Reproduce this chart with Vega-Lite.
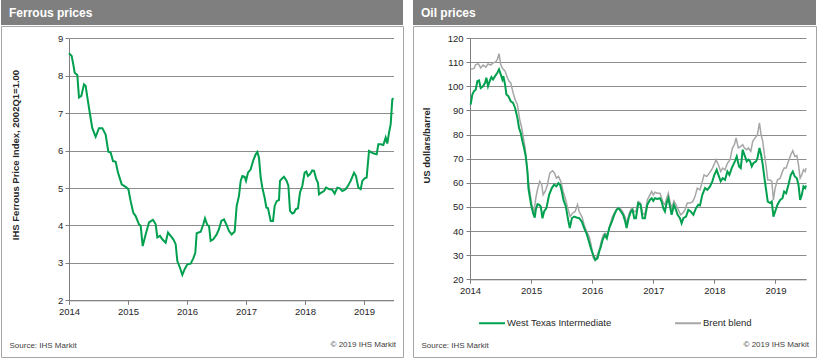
{
  "$schema": "https://vega.github.io/schema/vega-lite/v6.json",
  "padding": 0,
  "background": "white",
  "spacing": 8,
  "config": {
    "font": "Liberation Sans",
    "view": {"stroke": null},
    "axis": {
      "labelFont": "Liberation Sans",
      "labelFontSize": 9.5,
      "labelColor": "#262626",
      "titleFont": "Liberation Sans",
      "domainColor": "#7f7f7f",
      "tickColor": "#7f7f7f",
      "gridColor": "#8c8c8c",
      "gridWidth": 1,
      "tickSize": 4
    }
  },
  "datasets": {
    "ferrous": [
      {"t":2014.000,"v":8.60},{"t":2014.045,"v":8.53},{"t":2014.073,"v":8.30},{"t":2014.096,"v":8.08},{"t":2014.141,"v":8.02},
      {"t":2014.169,"v":7.42},{"t":2014.209,"v":7.46},{"t":2014.254,"v":7.77},{"t":2014.282,"v":7.73},{"t":2014.311,"v":7.42},
      {"t":2014.356,"v":6.97},{"t":2014.395,"v":6.60},{"t":2014.452,"v":6.37},{"t":2014.508,"v":6.60},{"t":2014.565,"v":6.60},
      {"t":2014.621,"v":6.43},{"t":2014.667,"v":5.97},{"t":2014.706,"v":5.95},{"t":2014.746,"v":5.72},{"t":2014.791,"v":5.70},
      {"t":2014.831,"v":5.41},{"t":2014.893,"v":5.10},{"t":2014.960,"v":5.03},{"t":2015.006,"v":4.97},{"t":2015.045,"v":4.65},
      {"t":2015.090,"v":4.34},{"t":2015.130,"v":4.25},{"t":2015.186,"v":4.03},{"t":2015.215,"v":3.99},{"t":2015.249,"v":3.45},
      {"t":2015.299,"v":3.76},{"t":2015.356,"v":4.08},{"t":2015.395,"v":4.12},{"t":2015.424,"v":4.15},{"t":2015.469,"v":4.03},
      {"t":2015.497,"v":3.68},{"t":2015.542,"v":3.72},{"t":2015.582,"v":3.63},{"t":2015.638,"v":3.54},{"t":2015.678,"v":3.81},
      {"t":2015.723,"v":3.72},{"t":2015.768,"v":3.63},{"t":2015.808,"v":3.50},{"t":2015.836,"v":3.05},{"t":2015.881,"v":2.87},
      {"t":2015.921,"v":2.68},{"t":2015.960,"v":2.83},{"t":2016.006,"v":2.96},{"t":2016.062,"v":2.98},{"t":2016.107,"v":3.12},
      {"t":2016.141,"v":3.27},{"t":2016.164,"v":3.79},{"t":2016.232,"v":3.83},{"t":2016.277,"v":4.03},{"t":2016.305,"v":4.19},
      {"t":2016.345,"v":4.01},{"t":2016.373,"v":3.99},{"t":2016.401,"v":3.59},{"t":2016.446,"v":3.63},{"t":2016.503,"v":3.76},
      {"t":2016.542,"v":3.90},{"t":2016.582,"v":4.12},{"t":2016.627,"v":4.16},{"t":2016.667,"v":4.03},{"t":2016.712,"v":3.85},
      {"t":2016.757,"v":3.76},{"t":2016.808,"v":3.84},{"t":2016.842,"v":4.52},{"t":2016.881,"v":4.79},{"t":2016.910,"v":5.19},
      {"t":2016.938,"v":5.32},{"t":2016.977,"v":5.30},{"t":2017.000,"v":5.19},{"t":2017.034,"v":5.41},{"t":2017.079,"v":5.50},
      {"t":2017.124,"v":5.74},{"t":2017.164,"v":5.90},{"t":2017.192,"v":5.96},{"t":2017.220,"v":5.81},{"t":2017.249,"v":5.28},
      {"t":2017.277,"v":5.01},{"t":2017.316,"v":4.74},{"t":2017.345,"v":4.48},{"t":2017.373,"v":4.46},{"t":2017.418,"v":4.12},
      {"t":2017.458,"v":4.12},{"t":2017.486,"v":4.52},{"t":2017.520,"v":4.65},{"t":2017.559,"v":4.68},{"t":2017.576,"v":5.19},
      {"t":2017.616,"v":5.26},{"t":2017.644,"v":5.30},{"t":2017.689,"v":5.19},{"t":2017.718,"v":5.06},{"t":2017.746,"v":4.39},
      {"t":2017.785,"v":4.32},{"t":2017.814,"v":4.34},{"t":2017.842,"v":4.43},{"t":2017.881,"v":4.46},{"t":2017.915,"v":4.88},
      {"t":2017.955,"v":5.06},{"t":2017.994,"v":5.41},{"t":2018.023,"v":5.44},{"t":2018.051,"v":5.32},{"t":2018.085,"v":5.37},
      {"t":2018.124,"v":5.47},{"t":2018.153,"v":5.46},{"t":2018.192,"v":5.23},{"t":2018.220,"v":5.14},{"t":2018.237,"v":4.83},
      {"t":2018.277,"v":4.88},{"t":2018.322,"v":4.92},{"t":2018.356,"v":5.01},{"t":2018.407,"v":4.97},{"t":2018.463,"v":4.95},
      {"t":2018.503,"v":4.85},{"t":2018.548,"v":5.01},{"t":2018.588,"v":4.99},{"t":2018.633,"v":4.92},{"t":2018.689,"v":4.97},
      {"t":2018.729,"v":5.06},{"t":2018.774,"v":5.19},{"t":2018.831,"v":5.41},{"t":2018.864,"v":5.32},{"t":2018.904,"v":5.01},
      {"t":2018.944,"v":4.97},{"t":2018.972,"v":5.19},{"t":2019.011,"v":5.26},{"t":2019.045,"v":5.28},{"t":2019.085,"v":5.99},
      {"t":2019.124,"v":5.95},{"t":2019.169,"v":5.92},{"t":2019.215,"v":5.90},{"t":2019.243,"v":6.17},{"t":2019.282,"v":6.17},
      {"t":2019.328,"v":6.15},{"t":2019.367,"v":6.35},{"t":2019.395,"v":6.19},{"t":2019.424,"v":6.48},{"t":2019.452,"v":6.70},
      {"t":2019.480,"v":7.37},{"t":2019.500,"v":7.40}
    ],
    "oil": [
      {"s":"Brent blend","t":2014.011,"v":107.0},{"s":"Brent blend","t":2014.066,"v":107.4},{"s":"Brent blend","t":2014.093,"v":109.0},
      {"s":"Brent blend","t":2014.137,"v":109.3},{"s":"Brent blend","t":2014.175,"v":107.6},{"s":"Brent blend","t":2014.213,"v":108.8},
      {"s":"Brent blend","t":2014.257,"v":107.9},{"s":"Brent blend","t":2014.295,"v":109.3},{"s":"Brent blend","t":2014.339,"v":108.8},
      {"s":"Brent blend","t":2014.377,"v":109.7},{"s":"Brent blend","t":2014.421,"v":110.1},{"s":"Brent blend","t":2014.448,"v":111.1},
      {"s":"Brent blend","t":2014.475,"v":113.5},{"s":"Brent blend","t":2014.503,"v":109.0},{"s":"Brent blend","t":2014.530,"v":107.4},
      {"s":"Brent blend","t":2014.574,"v":106.3},{"s":"Brent blend","t":2014.612,"v":103.5},{"s":"Brent blend","t":2014.639,"v":102.1},
      {"s":"Brent blend","t":2014.667,"v":101.4},{"s":"Brent blend","t":2014.705,"v":97.3},{"s":"Brent blend","t":2014.738,"v":94.5},
      {"s":"Brent blend","t":2014.776,"v":92.4},{"s":"Brent blend","t":2014.814,"v":86.2},{"s":"Brent blend","t":2014.847,"v":82.7},
      {"s":"Brent blend","t":2014.874,"v":78.6},{"s":"Brent blend","t":2014.902,"v":74.4},{"s":"Brent blend","t":2014.923,"v":68.9},
      {"s":"Brent blend","t":2014.945,"v":63.3},{"s":"Brent blend","t":2014.967,"v":58.5},{"s":"Brent blend","t":2014.995,"v":53.6},
      {"s":"Brent blend","t":2015.022,"v":49.5},{"s":"Brent blend","t":2015.049,"v":48.1},{"s":"Brent blend","t":2015.077,"v":53.6},
      {"s":"Brent blend","t":2015.104,"v":57.1},{"s":"Brent blend","t":2015.142,"v":60.6},{"s":"Brent blend","t":2015.175,"v":59.2},
      {"s":"Brent blend","t":2015.197,"v":55.0},{"s":"Brent blend","t":2015.230,"v":56.4},{"s":"Brent blend","t":2015.268,"v":59.2},
      {"s":"Brent blend","t":2015.306,"v":64.0},{"s":"Brent blend","t":2015.350,"v":65.0},{"s":"Brent blend","t":2015.383,"v":64.0},
      {"s":"Brent blend","t":2015.415,"v":61.9},{"s":"Brent blend","t":2015.448,"v":62.6},{"s":"Brent blend","t":2015.486,"v":60.6},
      {"s":"Brent blend","t":2015.525,"v":56.4},{"s":"Brent blend","t":2015.568,"v":52.9},{"s":"Brent blend","t":2015.607,"v":48.8},
      {"s":"Brent blend","t":2015.639,"v":46.0},{"s":"Brent blend","t":2015.678,"v":47.4},{"s":"Brent blend","t":2015.721,"v":48.1},
      {"s":"Brent blend","t":2015.760,"v":50.9},{"s":"Brent blend","t":2015.787,"v":48.1},{"s":"Brent blend","t":2015.831,"v":46.0},
      {"s":"Brent blend","t":2015.869,"v":42.5},{"s":"Brent blend","t":2015.907,"v":39.8},{"s":"Brent blend","t":2015.951,"v":37.7},
      {"s":"Brent blend","t":2015.984,"v":34.2},{"s":"Brent blend","t":2016.016,"v":29.0},{"s":"Brent blend","t":2016.049,"v":28.0},
      {"s":"Brent blend","t":2016.082,"v":30.1},{"s":"Brent blend","t":2016.115,"v":32.1},{"s":"Brent blend","t":2016.148,"v":35.6},
      {"s":"Brent blend","t":2016.180,"v":38.4},{"s":"Brent blend","t":2016.213,"v":39.1},{"s":"Brent blend","t":2016.251,"v":38.4},
      {"s":"Brent blend","t":2016.290,"v":42.5},{"s":"Brent blend","t":2016.333,"v":46.0},{"s":"Brent blend","t":2016.377,"v":48.1},
      {"s":"Brent blend","t":2016.415,"v":49.5},{"s":"Brent blend","t":2016.454,"v":49.5},{"s":"Brent blend","t":2016.497,"v":48.1},
      {"s":"Brent blend","t":2016.536,"v":46.0},{"s":"Brent blend","t":2016.568,"v":43.2},{"s":"Brent blend","t":2016.607,"v":47.4},
      {"s":"Brent blend","t":2016.645,"v":49.5},{"s":"Brent blend","t":2016.678,"v":48.1},{"s":"Brent blend","t":2016.716,"v":48.1},
      {"s":"Brent blend","t":2016.754,"v":52.2},{"s":"Brent blend","t":2016.792,"v":51.6},{"s":"Brent blend","t":2016.825,"v":47.4},
      {"s":"Brent blend","t":2016.863,"v":46.7},{"s":"Brent blend","t":2016.902,"v":52.9},{"s":"Brent blend","t":2016.945,"v":55.0},
      {"s":"Brent blend","t":2016.973,"v":56.4},{"s":"Brent blend","t":2017.000,"v":55.0},{"s":"Brent blend","t":2017.027,"v":56.1},
      {"s":"Brent blend","t":2017.066,"v":55.7},{"s":"Brent blend","t":2017.109,"v":55.7},{"s":"Brent blend","t":2017.137,"v":53.6},
      {"s":"Brent blend","t":2017.164,"v":51.6},{"s":"Brent blend","t":2017.191,"v":50.9},{"s":"Brent blend","t":2017.219,"v":53.6},
      {"s":"Brent blend","t":2017.246,"v":55.7},{"s":"Brent blend","t":2017.273,"v":52.2},{"s":"Brent blend","t":2017.301,"v":49.5},
      {"s":"Brent blend","t":2017.339,"v":52.5},{"s":"Brent blend","t":2017.372,"v":50.9},{"s":"Brent blend","t":2017.410,"v":48.8},
      {"s":"Brent blend","t":2017.448,"v":46.7},{"s":"Brent blend","t":2017.481,"v":47.4},{"s":"Brent blend","t":2017.519,"v":48.8},
      {"s":"Brent blend","t":2017.557,"v":51.6},{"s":"Brent blend","t":2017.601,"v":51.6},{"s":"Brent blend","t":2017.645,"v":52.2},
      {"s":"Brent blend","t":2017.683,"v":54.3},{"s":"Brent blend","t":2017.721,"v":57.8},{"s":"Brent blend","t":2017.765,"v":57.1},
      {"s":"Brent blend","t":2017.803,"v":60.6},{"s":"Brent blend","t":2017.831,"v":63.3},{"s":"Brent blend","t":2017.874,"v":62.6},
      {"s":"Brent blend","t":2017.918,"v":64.0},{"s":"Brent blend","t":2017.956,"v":65.4},{"s":"Brent blend","t":2017.995,"v":67.5},
      {"s":"Brent blend","t":2018.027,"v":69.6},{"s":"Brent blend","t":2018.066,"v":67.5},{"s":"Brent blend","t":2018.104,"v":64.7},
      {"s":"Brent blend","t":2018.137,"v":66.1},{"s":"Brent blend","t":2018.175,"v":65.4},{"s":"Brent blend","t":2018.213,"v":68.1},
      {"s":"Brent blend","t":2018.257,"v":69.6},{"s":"Brent blend","t":2018.295,"v":74.4},{"s":"Brent blend","t":2018.328,"v":75.8},
      {"s":"Brent blend","t":2018.355,"v":78.6},{"s":"Brent blend","t":2018.393,"v":74.4},{"s":"Brent blend","t":2018.432,"v":75.1},
      {"s":"Brent blend","t":2018.464,"v":75.8},{"s":"Brent blend","t":2018.492,"v":74.4},{"s":"Brent blend","t":2018.530,"v":73.7},
      {"s":"Brent blend","t":2018.557,"v":74.4},{"s":"Brent blend","t":2018.596,"v":73.0},{"s":"Brent blend","t":2018.628,"v":77.2},
      {"s":"Brent blend","t":2018.667,"v":78.6},{"s":"Brent blend","t":2018.705,"v":79.9},{"s":"Brent blend","t":2018.738,"v":84.8},
      {"s":"Brent blend","t":2018.765,"v":79.9},{"s":"Brent blend","t":2018.792,"v":77.2},{"s":"Brent blend","t":2018.820,"v":71.6},
      {"s":"Brent blend","t":2018.847,"v":66.8},{"s":"Brent blend","t":2018.874,"v":61.2},{"s":"Brent blend","t":2018.913,"v":61.2},
      {"s":"Brent blend","t":2018.940,"v":60.6},{"s":"Brent blend","t":2018.967,"v":52.9},{"s":"Brent blend","t":2018.995,"v":57.8},
      {"s":"Brent blend","t":2019.033,"v":61.2},{"s":"Brent blend","t":2019.077,"v":61.9},{"s":"Brent blend","t":2019.115,"v":64.7},
      {"s":"Brent blend","t":2019.142,"v":66.1},{"s":"Brent blend","t":2019.175,"v":66.1},{"s":"Brent blend","t":2019.213,"v":68.9},
      {"s":"Brent blend","t":2019.251,"v":71.6},{"s":"Brent blend","t":2019.284,"v":73.3},{"s":"Brent blend","t":2019.317,"v":70.9},
      {"s":"Brent blend","t":2019.350,"v":71.3},{"s":"Brent blend","t":2019.377,"v":67.5},{"s":"Brent blend","t":2019.404,"v":61.9},
      {"s":"Brent blend","t":2019.432,"v":63.3},{"s":"Brent blend","t":2019.459,"v":65.4},{"s":"Brent blend","t":2019.486,"v":64.7},
      {"s":"Brent blend","t":2019.500,"v":66.1},
      {"s":"West Texas Intermediate","t":2014.011,"v":92.4},{"s":"West Texas Intermediate","t":2014.038,"v":96.6},{"s":"West Texas Intermediate","t":2014.066,"v":98.0},
      {"s":"West Texas Intermediate","t":2014.093,"v":98.6},{"s":"West Texas Intermediate","t":2014.120,"v":102.1},{"s":"West Texas Intermediate","t":2014.148,"v":102.4},
      {"s":"West Texas Intermediate","t":2014.175,"v":99.3},{"s":"West Texas Intermediate","t":2014.213,"v":100.0},{"s":"West Texas Intermediate","t":2014.246,"v":101.4},
      {"s":"West Texas Intermediate","t":2014.268,"v":103.5},{"s":"West Texas Intermediate","t":2014.295,"v":100.0},{"s":"West Texas Intermediate","t":2014.322,"v":102.1},
      {"s":"West Texas Intermediate","t":2014.350,"v":103.8},{"s":"West Texas Intermediate","t":2014.377,"v":102.8},{"s":"West Texas Intermediate","t":2014.410,"v":104.2},
      {"s":"West Texas Intermediate","t":2014.448,"v":105.6},{"s":"West Texas Intermediate","t":2014.475,"v":107.0},{"s":"West Texas Intermediate","t":2014.503,"v":104.9},
      {"s":"West Texas Intermediate","t":2014.530,"v":102.8},{"s":"West Texas Intermediate","t":2014.546,"v":104.2},{"s":"West Texas Intermediate","t":2014.574,"v":100.7},
      {"s":"West Texas Intermediate","t":2014.596,"v":96.6},{"s":"West Texas Intermediate","t":2014.628,"v":95.9},{"s":"West Texas Intermediate","t":2014.667,"v":93.8},
      {"s":"West Texas Intermediate","t":2014.705,"v":93.1},{"s":"West Texas Intermediate","t":2014.738,"v":91.0},{"s":"West Texas Intermediate","t":2014.776,"v":86.9},
      {"s":"West Texas Intermediate","t":2014.803,"v":82.7},{"s":"West Texas Intermediate","t":2014.831,"v":80.6},{"s":"West Texas Intermediate","t":2014.858,"v":77.2},
      {"s":"West Texas Intermediate","t":2014.885,"v":74.4},{"s":"West Texas Intermediate","t":2014.913,"v":70.9},{"s":"West Texas Intermediate","t":2014.940,"v":64.7},
      {"s":"West Texas Intermediate","t":2014.956,"v":57.8},{"s":"West Texas Intermediate","t":2014.978,"v":54.3},{"s":"West Texas Intermediate","t":2015.000,"v":50.9},
      {"s":"West Texas Intermediate","t":2015.033,"v":47.4},{"s":"West Texas Intermediate","t":2015.060,"v":45.6},{"s":"West Texas Intermediate","t":2015.077,"v":48.8},
      {"s":"West Texas Intermediate","t":2015.104,"v":51.1},{"s":"West Texas Intermediate","t":2015.131,"v":50.9},{"s":"West Texas Intermediate","t":2015.158,"v":50.2},
      {"s":"West Texas Intermediate","t":2015.186,"v":45.3},{"s":"West Texas Intermediate","t":2015.213,"v":48.1},{"s":"West Texas Intermediate","t":2015.251,"v":49.5},
      {"s":"West Texas Intermediate","t":2015.295,"v":55.0},{"s":"West Texas Intermediate","t":2015.339,"v":57.8},{"s":"West Texas Intermediate","t":2015.377,"v":59.2},
      {"s":"West Texas Intermediate","t":2015.415,"v":58.5},{"s":"West Texas Intermediate","t":2015.448,"v":59.9},{"s":"West Texas Intermediate","t":2015.475,"v":59.2},
      {"s":"West Texas Intermediate","t":2015.503,"v":56.4},{"s":"West Texas Intermediate","t":2015.530,"v":52.9},{"s":"West Texas Intermediate","t":2015.568,"v":50.2},
      {"s":"West Texas Intermediate","t":2015.607,"v":44.6},{"s":"West Texas Intermediate","t":2015.634,"v":41.2},{"s":"West Texas Intermediate","t":2015.667,"v":45.3},
      {"s":"West Texas Intermediate","t":2015.705,"v":46.0},{"s":"West Texas Intermediate","t":2015.743,"v":45.6},{"s":"West Texas Intermediate","t":2015.787,"v":45.3},
      {"s":"West Texas Intermediate","t":2015.831,"v":43.9},{"s":"West Texas Intermediate","t":2015.869,"v":41.2},{"s":"West Texas Intermediate","t":2015.907,"v":39.1},
      {"s":"West Texas Intermediate","t":2015.940,"v":36.3},{"s":"West Texas Intermediate","t":2015.978,"v":32.9},{"s":"West Texas Intermediate","t":2016.016,"v":30.1},
      {"s":"West Texas Intermediate","t":2016.049,"v":28.0},{"s":"West Texas Intermediate","t":2016.087,"v":28.7},{"s":"West Texas Intermediate","t":2016.115,"v":31.5},
      {"s":"West Texas Intermediate","t":2016.142,"v":33.5},{"s":"West Texas Intermediate","t":2016.169,"v":36.3},{"s":"West Texas Intermediate","t":2016.208,"v":38.4},
      {"s":"West Texas Intermediate","t":2016.240,"v":37.0},{"s":"West Texas Intermediate","t":2016.279,"v":41.2},{"s":"West Texas Intermediate","t":2016.322,"v":43.9},
      {"s":"West Texas Intermediate","t":2016.361,"v":46.7},{"s":"West Texas Intermediate","t":2016.399,"v":48.8},{"s":"West Texas Intermediate","t":2016.432,"v":49.5},
      {"s":"West Texas Intermediate","t":2016.470,"v":48.1},{"s":"West Texas Intermediate","t":2016.508,"v":46.7},{"s":"West Texas Intermediate","t":2016.541,"v":43.9},
      {"s":"West Texas Intermediate","t":2016.563,"v":41.2},{"s":"West Texas Intermediate","t":2016.596,"v":45.3},{"s":"West Texas Intermediate","t":2016.634,"v":48.1},
      {"s":"West Texas Intermediate","t":2016.661,"v":48.8},{"s":"West Texas Intermediate","t":2016.689,"v":45.3},{"s":"West Texas Intermediate","t":2016.716,"v":45.3},
      {"s":"West Texas Intermediate","t":2016.754,"v":51.6},{"s":"West Texas Intermediate","t":2016.792,"v":50.9},{"s":"West Texas Intermediate","t":2016.825,"v":45.3},
      {"s":"West Texas Intermediate","t":2016.863,"v":45.3},{"s":"West Texas Intermediate","t":2016.902,"v":50.9},{"s":"West Texas Intermediate","t":2016.945,"v":52.9},
      {"s":"West Texas Intermediate","t":2016.973,"v":53.6},{"s":"West Texas Intermediate","t":2017.000,"v":52.5},{"s":"West Texas Intermediate","t":2017.027,"v":53.6},
      {"s":"West Texas Intermediate","t":2017.066,"v":53.3},{"s":"West Texas Intermediate","t":2017.109,"v":53.6},{"s":"West Texas Intermediate","t":2017.137,"v":52.2},
      {"s":"West Texas Intermediate","t":2017.164,"v":49.5},{"s":"West Texas Intermediate","t":2017.191,"v":48.1},{"s":"West Texas Intermediate","t":2017.219,"v":51.6},
      {"s":"West Texas Intermediate","t":2017.246,"v":53.6},{"s":"West Texas Intermediate","t":2017.273,"v":50.2},{"s":"West Texas Intermediate","t":2017.301,"v":46.7},
      {"s":"West Texas Intermediate","t":2017.339,"v":50.9},{"s":"West Texas Intermediate","t":2017.372,"v":48.8},{"s":"West Texas Intermediate","t":2017.399,"v":46.7},
      {"s":"West Texas Intermediate","t":2017.437,"v":45.3},{"s":"West Texas Intermediate","t":2017.464,"v":43.2},{"s":"West Texas Intermediate","t":2017.492,"v":45.3},
      {"s":"West Texas Intermediate","t":2017.536,"v":46.0},{"s":"West Texas Intermediate","t":2017.574,"v":48.8},{"s":"West Texas Intermediate","t":2017.612,"v":48.1},
      {"s":"West Texas Intermediate","t":2017.656,"v":46.7},{"s":"West Texas Intermediate","t":2017.699,"v":49.5},{"s":"West Texas Intermediate","t":2017.738,"v":50.9},
      {"s":"West Texas Intermediate","t":2017.765,"v":50.6},{"s":"West Texas Intermediate","t":2017.803,"v":55.0},{"s":"West Texas Intermediate","t":2017.847,"v":57.8},
      {"s":"West Texas Intermediate","t":2017.885,"v":57.1},{"s":"West Texas Intermediate","t":2017.929,"v":58.5},{"s":"West Texas Intermediate","t":2017.967,"v":60.6},
      {"s":"West Texas Intermediate","t":2018.000,"v":63.3},{"s":"West Texas Intermediate","t":2018.038,"v":65.4},{"s":"West Texas Intermediate","t":2018.066,"v":63.3},
      {"s":"West Texas Intermediate","t":2018.104,"v":60.6},{"s":"West Texas Intermediate","t":2018.137,"v":61.9},{"s":"West Texas Intermediate","t":2018.175,"v":61.2},
      {"s":"West Texas Intermediate","t":2018.213,"v":64.7},{"s":"West Texas Intermediate","t":2018.246,"v":63.3},{"s":"West Texas Intermediate","t":2018.284,"v":66.1},
      {"s":"West Texas Intermediate","t":2018.311,"v":67.5},{"s":"West Texas Intermediate","t":2018.339,"v":69.1},{"s":"West Texas Intermediate","t":2018.366,"v":70.9},
      {"s":"West Texas Intermediate","t":2018.404,"v":66.8},{"s":"West Texas Intermediate","t":2018.432,"v":66.1},{"s":"West Texas Intermediate","t":2018.464,"v":73.7},
      {"s":"West Texas Intermediate","t":2018.492,"v":71.6},{"s":"West Texas Intermediate","t":2018.530,"v":68.9},{"s":"West Texas Intermediate","t":2018.557,"v":69.6},
      {"s":"West Texas Intermediate","t":2018.585,"v":68.9},{"s":"West Texas Intermediate","t":2018.612,"v":66.8},{"s":"West Texas Intermediate","t":2018.639,"v":68.1},
      {"s":"West Texas Intermediate","t":2018.683,"v":68.9},{"s":"West Texas Intermediate","t":2018.705,"v":70.2},{"s":"West Texas Intermediate","t":2018.738,"v":74.4},
      {"s":"West Texas Intermediate","t":2018.765,"v":71.6},{"s":"West Texas Intermediate","t":2018.792,"v":67.5},{"s":"West Texas Intermediate","t":2018.820,"v":61.9},
      {"s":"West Texas Intermediate","t":2018.847,"v":57.1},{"s":"West Texas Intermediate","t":2018.874,"v":52.2},{"s":"West Texas Intermediate","t":2018.913,"v":51.6},
      {"s":"West Texas Intermediate","t":2018.940,"v":52.2},{"s":"West Texas Intermediate","t":2018.967,"v":46.0},{"s":"West Texas Intermediate","t":2018.995,"v":48.1},
      {"s":"West Texas Intermediate","t":2019.033,"v":50.9},{"s":"West Texas Intermediate","t":2019.077,"v":52.9},{"s":"West Texas Intermediate","t":2019.115,"v":53.6},
      {"s":"West Texas Intermediate","t":2019.142,"v":56.4},{"s":"West Texas Intermediate","t":2019.175,"v":55.7},{"s":"West Texas Intermediate","t":2019.213,"v":59.2},
      {"s":"West Texas Intermediate","t":2019.251,"v":63.3},{"s":"West Texas Intermediate","t":2019.284,"v":64.7},{"s":"West Texas Intermediate","t":2019.317,"v":62.6},
      {"s":"West Texas Intermediate","t":2019.350,"v":61.9},{"s":"West Texas Intermediate","t":2019.377,"v":59.2},{"s":"West Texas Intermediate","t":2019.404,"v":52.9},
      {"s":"West Texas Intermediate","t":2019.432,"v":55.0},{"s":"West Texas Intermediate","t":2019.459,"v":58.5},{"s":"West Texas Intermediate","t":2019.486,"v":57.8},
      {"s":"West Texas Intermediate","t":2019.500,"v":58.9}
    ]
  },
  "hconcat": [
    {
      "spacing": 0,
      "vconcat": [
        {
          "width": 402, "height": 25,
          "view": {"fill": "#7f7f7f", "stroke": null},
          "data": {"values": [{"label": "Ferrous prices"}]},
          "mark": {"type": "text", "align": "left", "baseline": "middle", "dx": 8, "color": "white", "fontWeight": "bold", "fontSize": 12, "font": "Liberation Sans"},
          "encoding": {
            "text": {"field": "label"},
            "x": {"datum": 0, "type": "quantitative", "scale": {"domain": [0, 1]}, "axis": null}
          }
        },
        {
          "width": 402, "height": 331,
          "view": {"fill": "white", "stroke": "#a6a6a6", "strokeWidth": 1},
          "title": {"text": "© 2019 IHS Markit", "orient": "bottom", "anchor": "end", "frame": "group", "offset": -12, "dx": -7, "fontSize": 8, "fontWeight": "normal", "color": "#404040", "baseline": "middle", "font": "Liberation Sans"},
          "data": {"name": "ferrous"},
          "mark": {"type": "line", "color": "#00a04f", "strokeWidth": 2},
          "encoding": {
            "x": {"field": "t", "type": "quantitative",
              "scale": {"domain": [2014, 2019.5], "range": [68, 392.5], "nice": false, "zero": false},
              "axis": {"values": [2014, 2015, 2016, 2017, 2018, 2019], "format": "d", "offset": -56.7, "grid": false, "labelPadding": 2, "labelFlush": false,
                "title": "Source: IHS Markit", "titleX": 8, "titleY": 44.7, "titleAlign": "left", "titleAnchor": "start", "titleBaseline": "middle", "titleFontSize": 8, "titleFontWeight": "normal", "titleColor": "#404040"}},
            "y": {"field": "v", "type": "quantitative",
              "scale": {"domain": [2, 9], "range": [274.3, 12.3], "nice": false, "zero": false},
              "axis": {"values": [2, 3, 4, 5, 6, 7, 8, 9], "offset": -68, "grid": true, "labelPadding": 2.3, "labelFlush": false,
                "title": "IHS Ferrous Price Index, 2002Q1=1.00", "titleX": -53.8, "titleY": 128.5, "titleAngle": -90, "titleAlign": "center", "titleBaseline": "middle", "titleFontSize": 9.5, "titleFontWeight": "bold", "titleColor": "#262626"}}
          }
        }
      ]
    },
    {
      "spacing": 0,
      "vconcat": [
        {
          "width": 403, "height": 25,
          "view": {"fill": "#7f7f7f", "stroke": null},
          "data": {"values": [{"label": "Oil prices"}]},
          "mark": {"type": "text", "align": "left", "baseline": "middle", "dx": 8, "color": "white", "fontWeight": "bold", "fontSize": 12, "font": "Liberation Sans"},
          "encoding": {
            "text": {"field": "label"},
            "x": {"datum": 0, "type": "quantitative", "scale": {"domain": [0, 1]}, "axis": null}
          }
        },
        {
          "width": 403, "height": 331,
          "view": {"fill": "white", "stroke": "#a6a6a6", "strokeWidth": 1},
          "title": {"text": "© 2019 IHS Markit", "orient": "bottom", "anchor": "end", "frame": "group", "offset": -12, "dx": -7, "fontSize": 8, "fontWeight": "normal", "color": "#404040", "baseline": "middle", "font": "Liberation Sans"},
          "data": {"name": "oil"},
          "encoding": {
            "x": {"field": "t", "type": "quantitative",
              "scale": {"domain": [2014, 2019.5], "range": [57, 393], "nice": false, "zero": false},
              "axis": {"values": [2014, 2015, 2016, 2017, 2018, 2019], "format": "d", "offset": -77.7, "grid": false, "labelPadding": 2.5, "labelFlush": false,
                "title": "Source: IHS Markit", "titleX": 8, "titleY": 65.7, "titleAlign": "left", "titleAnchor": "start", "titleBaseline": "middle", "titleFontSize": 8, "titleFontWeight": "normal", "titleColor": "#404040"}},
            "y": {"field": "v", "type": "quantitative",
              "scale": {"domain": [20, 120], "range": [253.3, 12], "nice": false, "zero": false},
              "axis": {"values": [20, 30, 40, 50, 60, 70, 80, 90, 100, 110, 120], "offset": -57, "grid": true, "labelPadding": 3, "labelFlush": false,
                "title": "US dollars/barrel", "titleX": -44, "titleY": 119, "titleAngle": -90, "titleAlign": "center", "titleBaseline": "middle", "titleFontSize": 9.5, "titleFontWeight": "bold", "titleColor": "#262626"}},
            "color": {"field": "s", "type": "nominal",
              "scale": {"domain": ["West Texas Intermediate", "Brent blend"], "range": ["#00a04f", "#a6a6a6"]},
              "legend": {"orient": "none", "legendX": 477, "legendY": 309, "direction": "horizontal", "title": null, "symbolType": "stroke", "symbolSize": 676, "symbolStrokeWidth": 2, "labelFontSize": 9.5, "labelFont": "Liberation Sans", "labelColor": "#262626", "labelOffset": 1, "columnPadding": 59, "padding": 0}}
          },
          "layer": [
            {"transform": [{"filter": "datum.s === 'Brent blend'"}], "mark": {"type": "line", "strokeWidth": 1.5}},
            {"transform": [{"filter": "datum.s === 'West Texas Intermediate'"}], "mark": {"type": "line", "strokeWidth": 2}}
          ]
        }
      ]
    }
  ]
}
